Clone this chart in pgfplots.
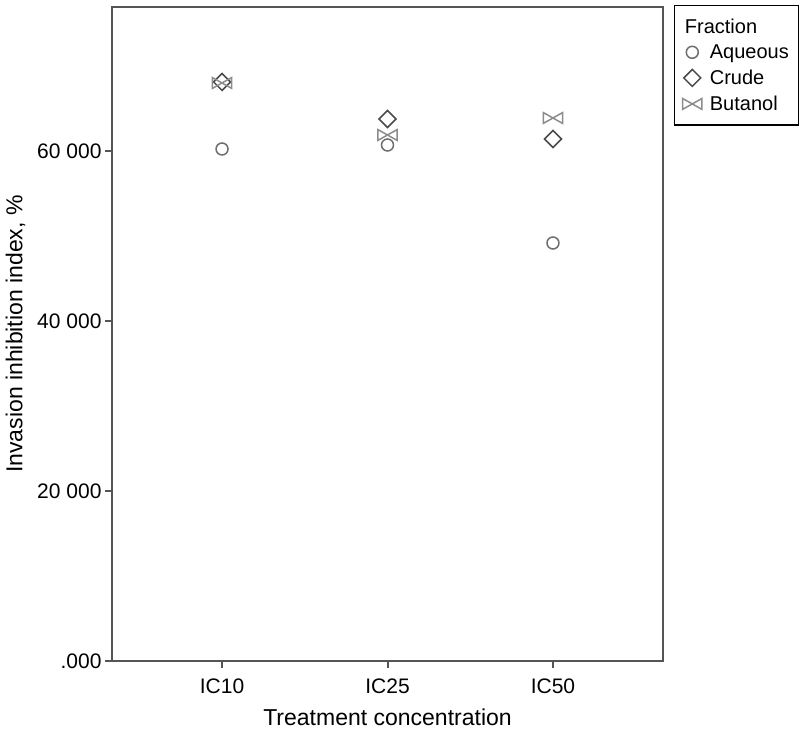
\documentclass[border=0pt]{standalone}
\usepackage{fontspec}
\setmainfont{Liberation Sans}
\usepackage{pgfplots}
\pgfplotsset{compat=1.18}
\definecolor{axgray}{HTML}{555555}
\definecolor{aqgray}{HTML}{6E6E6E}
\definecolor{crgray}{HTML}{4A4A4A}
\definecolor{bugray}{HTML}{8C8C8C}

% bowtie mark for Butanol
\pgfdeclareplotmark{bowtie}{%
  \pgfpathmoveto{\pgfqpoint{-1.6\pgfplotmarksize}{0.9\pgfplotmarksize}}%
  \pgfpathlineto{\pgfqpoint{1.6\pgfplotmarksize}{-0.9\pgfplotmarksize}}%
  \pgfpathlineto{\pgfqpoint{1.6\pgfplotmarksize}{0.9\pgfplotmarksize}}%
  \pgfpathlineto{\pgfqpoint{-1.6\pgfplotmarksize}{-0.9\pgfplotmarksize}}%
  \pgfpathclose
  \pgfusepathqstroke}

\begin{document}
\begin{tikzpicture}
\begin{axis}[
    scale only axis,
    width=551pt, height=654pt,
    xmin=0.335, xmax=3.665,
    ymin=0, ymax=76941,
    xtick={1,2,3},
    xticklabels={IC10,IC25,IC50},
    ytick={0,20000,40000,60000},
    yticklabels={.000,20 000,40 000,60 000},
    xtick pos=bottom, ytick pos=left,
    tick align=outside,
    major tick length=7pt,
    axis line style={axgray, line width=2pt},
    every tick/.style={axgray, line width=2pt},
    tick label style={font=\fontsize{21}{25}\selectfont, black},
    xticklabel style={yshift=-7pt},
    label style={font=\fontsize{23}{27}\selectfont, black},
    xlabel={Treatment concentration},
    xlabel style={yshift=-9pt},
    ylabel={Invasion inhibition index, \%},
    ylabel style={yshift=5pt},
    clip=false,
    legend style={
        at={(1.02,1.003)}, anchor=north west,
        draw=black, line width=1.3pt,
        font=\fontsize{20}{24}\selectfont,
        cells={anchor=west},
        row sep=6pt,
        inner xsep=8pt, inner ysep=11pt,
        /tikz/every odd column/.append style={column sep=6pt},
    },
    legend cell align=left,
]
\addlegendimage{empty legend}
\addlegendentry{\hspace*{-25pt}Fraction}

\addplot[only marks, mark=o, mark size=6pt, aqgray, line width=1.5pt]
    coordinates {(1,60235) (2,60706) (3,49176)};
\addlegendentry{Aqueous}

\addplot[only marks, mark=square, mark size=6pt, mark options={rotate=45}, crgray, line width=1.5pt]
    coordinates {(1,68118) (2,63765) (3,61412)};
\addlegendentry{Crude}

\addplot[only marks, mark=bowtie, mark size=6pt, bugray, line width=1.5pt]
    coordinates {(1,68000) (2,61882) (3,63882)};
\addlegendentry{Butanol}
\end{axis}
\pgfresetboundingbox
\path[use as bounding box] (-112pt,-82pt) rectangle (688pt,661pt);
\end{tikzpicture}
\end{document}
